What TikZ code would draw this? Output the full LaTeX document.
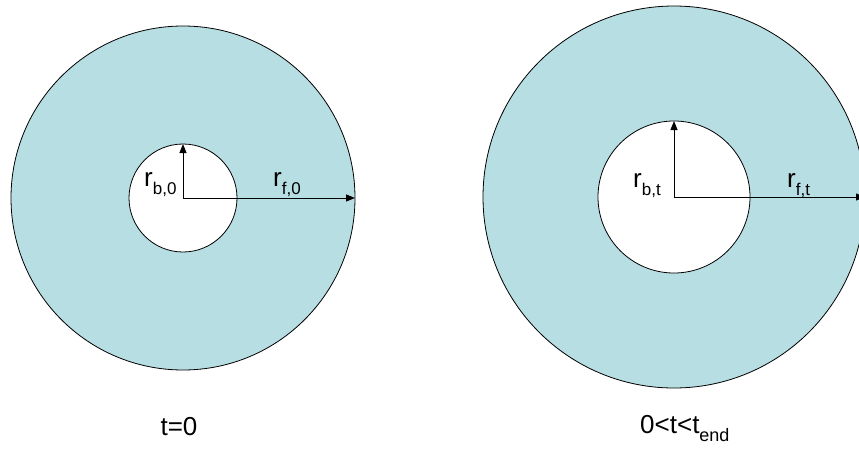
\documentclass[tikz,border=0pt]{standalone}
\usepackage{fontspec}
\setmainfont{Liberation Sans}
\usetikzlibrary{arrows.meta}
\definecolor{ringblue}{RGB}{183,222,227}
\newcommand{\radlab}[1]{r\raisebox{-8.5pt}{\fontsize{17}{20}\selectfont #1}}
\begin{document}
\begin{tikzpicture}[x=1pt,y=-1pt,
  ring/.style={circle,draw=black,line width=0.8pt,fill=ringblue,inner sep=0pt,outer sep=0pt,minimum size=#1},
  hole/.style={circle,draw=black,line width=0.8pt,fill=white,inner sep=0pt,outer sep=0pt,minimum size=#1},
  radius arrow/.style={line width=1pt,-{Triangle[length=9pt,width=7pt]}},
  lbl/.style={font=\fontsize{26}{30}\selectfont,inner sep=0pt}]
\useasboundingbox (0,0) rectangle (859,450);
\clip (0,0) rectangle (859,450);
% left ring, t=0
\node[ring=344pt] (outerL) at (183,198) {};
\node[hole=108pt] (innerL) at (183,198) {};
\draw[radius arrow] (innerL.center) -- (innerL.north);
\draw[radius arrow] (outerL.center) -- (outerL.east);
\node[lbl,anchor=base west] (rb0) at (144,186) {\radlab{b,0}};
\node[lbl,anchor=base west] (rf0) at (273,186) {\radlab{f,0}};
\node[lbl,anchor=base] (t0) at (179,435) {t=0};
% right ring, 0<t<t_end
\node[ring=382pt] (outerR) at (674,197) {};
\node[hole=152pt] (innerR) at (674,197) {};
\draw[radius arrow] (innerR.center) -- (innerR.north);
\draw[radius arrow] (outerR.center) -- (outerR.east);
\node[lbl,anchor=base west] (rbt) at (633,187) {\radlab{b,t}};
\node[lbl,anchor=base west] (rft) at (787,187) {\radlab{f,t}};
\node[lbl,anchor=base west] (tt) at (640,433) {0<t<t\raisebox{-8.5pt}{\fontsize{18}{20}\selectfont end}};
\end{tikzpicture}
\end{document}
